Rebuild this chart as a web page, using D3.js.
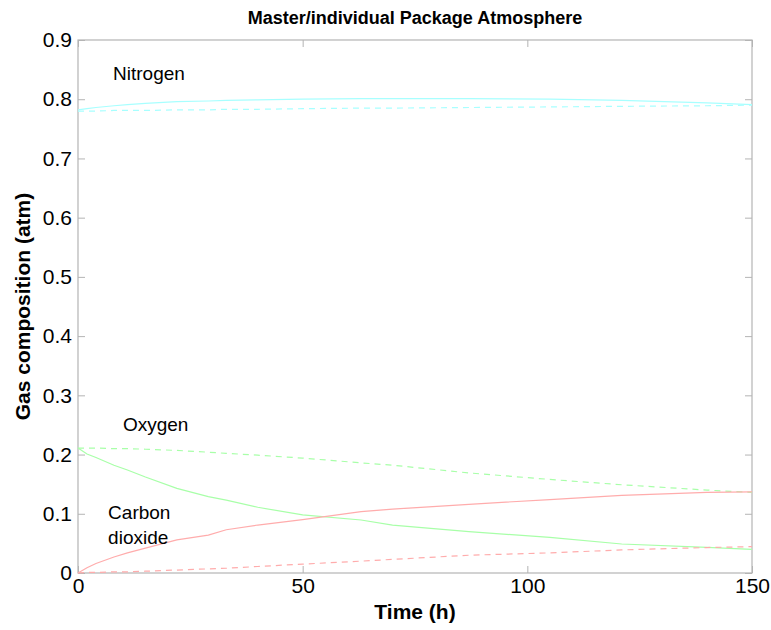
<!DOCTYPE html>
<html>
<head>
<meta charset="utf-8">
<script src="https://cdn.jsdelivr.net/npm/d3@7"></script>
<style>
  body { margin: 0; background: #fff; }
  text { font-family: "Liberation Sans", Arial, sans-serif; }
</style>
</head>
<body>
<div id="wrapper"></div>
<script>
// Master / individual package atmosphere
const time = [0, 2, 4, 8, 11, 15, 22, 29, 33, 40, 50, 63, 70, 87, 105, 121, 140, 150]

const n2Master = [0.782, 0.784, 0.786, 0.789, 0.791, 0.793, 0.796, 0.797, 0.798, 0.799, 0.8, 0.801, 0.801, 0.801, 0.8, 0.798, 0.794, 0.791]
const n2Indiv = [0.780, 0.780, 0.780, 0.781, 0.781, 0.781, 0.782, 0.782, 0.783, 0.783, 0.784, 0.785, 0.785, 0.786, 0.787, 0.788, 0.789, 0.79]

const o2Master = [0.211, 0.201, 0.195, 0.182, 0.174, 0.162, 0.143, 0.129, 0.123, 0.111, 0.098, 0.0895, 0.081, 0.0698, 0.06, 0.049, 0.0434, 0.04]
const o2Indiv = [0.211, 0.211, 0.211, 0.210, 0.210, 0.209, 0.207, 0.204, 0.202, 0.199, 0.194, 0.186, 0.182, 0.169, 0.158, 0.149, 0.14, 0.136]

const co2Master = [0, 0.009, 0.016, 0.027, 0.034, 0.042, 0.056, 0.064, 0.073, 0.081, 0.09, 0.1036, 0.108, 0.116, 0.124, 0.131, 0.136, 0.137]
const co2Indiv = [0, 0.001, 0.001, 0.002, 0.002, 0.003, 0.005, 0.007, 0.008, 0.011, 0.015, 0.020, 0.023, 0.030, 0.034, 0.039, 0.043, 0.0445]

const xTicks = [0, 50, 100, 150]
const yTicks = [0, 0.1, 0.2, 0.3, 0.4, 0.5, 0.6, 0.7, 0.8, 0.9]

const series = [
  { values: n2Master, color: "#a8ffff", dash: null },
  { values: n2Indiv, color: "#a8ffff", dash: "6,5" },
  { values: o2Master, color: "#a8ffa8", dash: null },
  { values: o2Indiv, color: "#a8ffa8", dash: "6,5" },
  { values: co2Master, color: "#ffacac", dash: null },
  { values: co2Indiv, color: "#ffacac", dash: "6,5" }
]

const labels = [
  { lines: ["Nitrogen"], t: 7.8, v: 0.833 },
  { lines: ["Oxygen"], t: 10, v: 0.24 },
  { lines: ["Carbon", "dioxide"], t: 6.7, v: 0.091 }
]

const dimensions = {
  width: 771,
  height: 630,
  margin: { top: 40, right: 19, bottom: 57, left: 78 }
}
dimensions.boundedWidth = dimensions.width - dimensions.margin.left - dimensions.margin.right
dimensions.boundedHeight = dimensions.height - dimensions.margin.top - dimensions.margin.bottom

const svg = d3.select("#wrapper")
  .append("svg")
  .attr("width", dimensions.width)
  .attr("height", dimensions.height)

const bounds = svg.append("g")
  .attr("transform", `translate(${dimensions.margin.left},${dimensions.margin.top})`)

const xScale = d3.scaleLinear()
  .domain([0, 150])
  .range([0, dimensions.boundedWidth])

const yScale = d3.scaleLinear()
  .domain([0, 0.9])
  .range([dimensions.boundedHeight, 0])

// box
bounds.append("rect")
  .attr("width", dimensions.boundedWidth)
  .attr("height", dimensions.boundedHeight)
  .attr("fill", "none")
  .attr("stroke", "#b4b4b4")
  .attr("stroke-width", 1.2)

// inward ticks on all four sides
const tickLen = 7
const axisStyle = g => {
  g.select(".domain").remove()
  g.selectAll(".tick line").attr("stroke", "#b4b4b4")
  g.selectAll(".tick text")
    .attr("fill", "#000")
    .style("font-size", "21px")
    .style("font-family", "'Liberation Sans', Arial, sans-serif")
}

bounds.append("g")
  .attr("transform", `translate(0,${dimensions.boundedHeight})`)
  .call(d3.axisBottom(xScale).tickValues(xTicks).tickSizeInner(-tickLen).tickPadding(5).tickFormat(d3.format("d")))
  .call(axisStyle)

bounds.append("g")
  .call(d3.axisTop(xScale).tickValues(xTicks).tickSizeInner(-tickLen).tickFormat(""))
  .call(axisStyle)

bounds.append("g")
  .call(d3.axisLeft(yScale).tickValues(yTicks).tickSizeInner(-tickLen).tickPadding(6).tickFormat(d => d === 0 ? "0" : d3.format(".1f")(d)))
  .call(axisStyle)

bounds.append("g")
  .attr("transform", `translate(${dimensions.boundedWidth},0)`)
  .call(d3.axisRight(yScale).tickValues(yTicks).tickSizeInner(-tickLen).tickFormat(""))
  .call(axisStyle)

// lines
const lineGenerator = d3.line()
  .x((d, i) => xScale(time[i]))
  .y(d => yScale(d))

bounds.append("g")
  .selectAll("path")
  .data(series)
  .join("path")
  .attr("d", d => lineGenerator(d.values))
  .attr("fill", "none")
  .attr("stroke", d => d.color)
  .attr("stroke-width", 1.2)
  .attr("stroke-dasharray", d => d.dash)

// gas labels
bounds.append("g")
  .selectAll("text")
  .data(labels)
  .join("text")
  .attr("x", d => xScale(d.t))
  .attr("y", d => yScale(d.v))
  .style("font-size", "19px")
  .attr("fill", "#000")
  .selectAll("tspan")
  .data(d => d.lines.map((l, i) => ({ l, i, d })))
  .join("tspan")
  .attr("x", o => xScale(o.d.t))
  .attr("dy", o => o.i === 0 ? 0 : 25)
  .text(o => o.l)

// title and axis labels
svg.append("text")
  .attr("x", dimensions.margin.left + dimensions.boundedWidth / 2)
  .attr("y", 24)
  .attr("text-anchor", "middle")
  .style("font-size", "18px")
  .style("font-weight", "bold")
  .text("Master/individual Package Atmosphere")

svg.append("text")
  .attr("x", dimensions.margin.left + dimensions.boundedWidth / 2)
  .attr("y", 619)
  .attr("text-anchor", "middle")
  .style("font-size", "21px")
  .style("font-weight", "bold")
  .text("Time (h)")

svg.append("text")
  .attr("transform", `translate(30,${dimensions.margin.top + dimensions.boundedHeight / 2}) rotate(-90)`)
  .attr("text-anchor", "middle")
  .style("font-size", "21px")
  .style("font-weight", "bold")
  .text("Gas composition (atm)")
</script>
</body>
</html>
